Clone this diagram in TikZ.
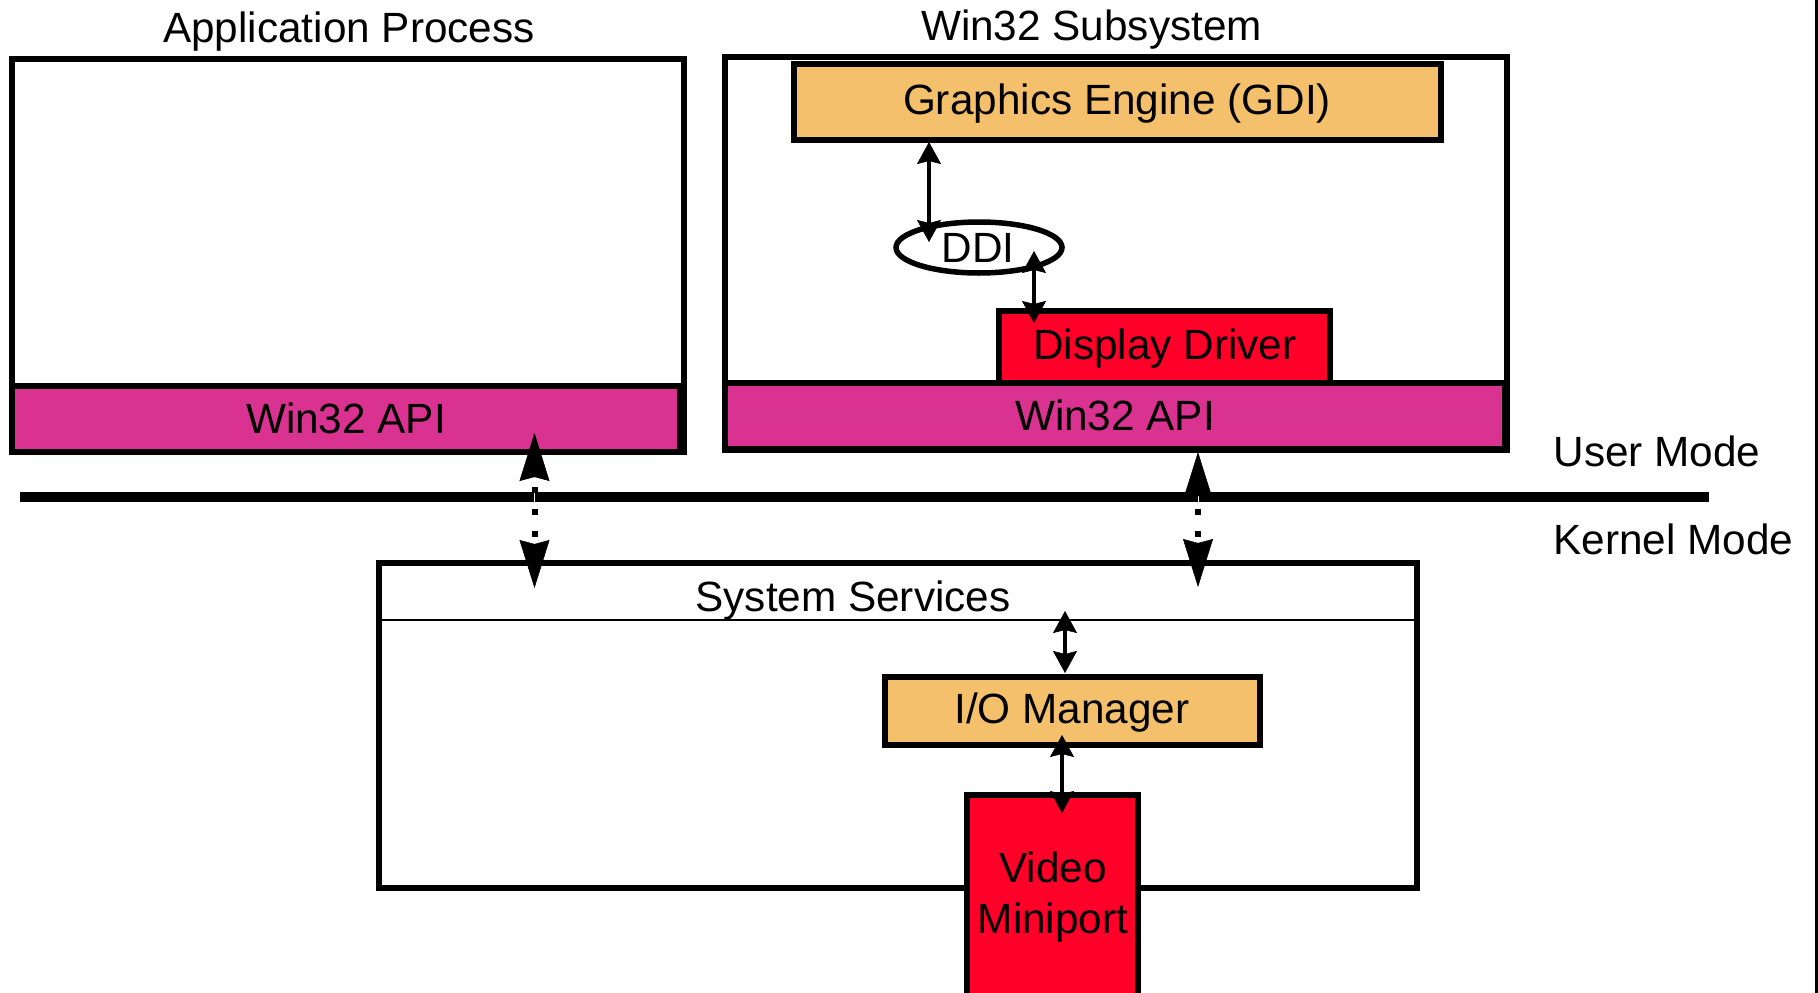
\documentclass[tikz,border=0pt]{standalone}
\usepackage{fontspec}
\setmainfont{Liberation Sans}
\usetikzlibrary{arrows.meta,shapes.geometric}
\definecolor{gdiorange}{RGB}{244,192,108}
\definecolor{apimag}{RGB}{218,50,145}
\definecolor{drvred}{RGB}{255,0,40}
\tikzset{
  box/.style={draw=black, line width=5.5pt, inner sep=0pt, outer sep=0pt},
  lbl/.style={font=\fontsize{42.3}{51}\selectfont, inner sep=0pt, outer sep=0pt},
  bigheads/.style={line width=0.1pt, draw=white,
    {Stealth[length=48pt, width=30pt, inset=4pt, line width=0.5pt, color=black]}-{Stealth[length=48pt, width=30pt, inset=4pt, line width=0.5pt, color=black]}},
  dotline/.style={line width=6pt, dash pattern=on 6pt off 16pt},
  smallarrow/.style={line width=4.5pt,
    {Stealth[length=22pt, width=24pt, inset=3pt, line width=0.5pt]}-{Stealth[length=22pt, width=24pt, inset=3pt, line width=0.5pt]}}
}
\begin{document}
\begin{tikzpicture}[x=1pt,y=-1pt]
\fill[white] (0,0) rectangle (1818,993);
\useasboundingbox (0,0) rectangle (1818,993);
\begin{scope}
\clip (0,0) rectangle (1818,993);
% application process
\node[lbl] (apptitle) at (349,32) {Application Process};
\node[box, minimum width=672pt, minimum height=393pt] (app) at (348,255.5) {};
\node[box, fill=apimag, minimum width=668pt, minimum height=66pt] (appapi) at (346,419) {};
\node[lbl] (appapitext) at (346,418.5) {Win32 API};
% win32 subsystem
\node[lbl] (w32title) at (1091.5,29.5) {Win32 Subsystem};
\node[box, minimum width=782pt, minimum height=393pt] (w32) at (1116,253.5) {};
\node[box, fill=gdiorange, minimum width=647pt, minimum height=76pt] (gdi) at (1117.5,102) {};
\node[lbl] (gditext) at (1117,103.5) {Graphics Engine (GDI)};
\node[box, ellipse, fill=white, minimum width=166pt, minimum height=51pt] (ddi) at (979,247.5) {};
\node[lbl] (dditext) at (978,248) {DDI};
\node[box, fill=drvred, minimum width=331pt, minimum height=72pt] (dd) at (1164.5,347) {};
\node[lbl] (ddtext) at (1165,348.5) {Display Driver};
\node[box, fill=apimag, minimum width=780pt, minimum height=66pt] (w32api) at (1115,416) {};
\node[lbl] (w32apitext) at (1115,415.5) {Win32 API};
% mode line
\coordinate (ml1) at (20,497);
\coordinate (ml2) at (1709,497);
\draw[line width=10pt] (ml1) -- (ml2);
\node[lbl, anchor=west] (user) at (1553.5,451) {User Mode};
\node[lbl, anchor=west] (kernel) at (1553.5,539) {Kernel Mode};
% system services
\node[box, minimum width=1038pt, minimum height=325pt] (ss) at (898,725.5) {};
\coordinate (dv1) at (379,620);
\coordinate (dv2) at (1417,620);
\draw[line width=2pt] (dv1) -- (dv2);
\node[lbl] (sstext) at (853,600.5) {System Services};
\node[box, fill=gdiorange, minimum width=375pt, minimum height=68pt] (io) at (1072.5,711) {};
\node[lbl] (iotext) at (1072,713) {I/O Manager};
\node[box, fill=drvred, minimum width=171pt, minimum height=215pt] (vid) at (1052.5,902.5) {};
\node[lbl, align=center] (vidtext) at (1053,897.5) {Video\\Miniport};
% dotted arrows between user and kernel mode
\coordinate (la1) at (534.5,433);
\coordinate (la2) at (534.5,588);
\coordinate (ld1) at (534.5,487);
\coordinate (ld2) at (534.5,538);
\coordinate (ra1) at (1198,452);
\coordinate (ra2) at (1198,587);
\coordinate (rd1) at (1198,487);
\coordinate (rd2) at (1198,538);
\draw[bigheads] (la1) -- (la2);
\draw[bigheads] (ra1) -- (ra2);
\draw[dotline] (ld1) -- (ld2);
\draw[dotline] (rd1) -- (rd2);
% solid arrows
\coordinate (g1) at (929,142);
\coordinate (g2) at (929,242);
\coordinate (d1) at (1034,251);
\coordinate (d2) at (1034,323);
\coordinate (s1) at (1065,611);
\coordinate (s2) at (1065,673);
\coordinate (i1) at (1062,735);
\coordinate (i2) at (1062,813);
\draw[smallarrow] (g1) -- (g2);
\draw[smallarrow] (d1) -- (d2);
\draw[smallarrow] (s1) -- (s2);
\draw[smallarrow] (i1) -- (i2);
% right border
\coordinate (rb1) at (1816,0);
\coordinate (rb2) at (1816,993);
\draw[line width=3pt] (rb1) -- (rb2);
\end{scope}
\end{tikzpicture}
\end{document}
